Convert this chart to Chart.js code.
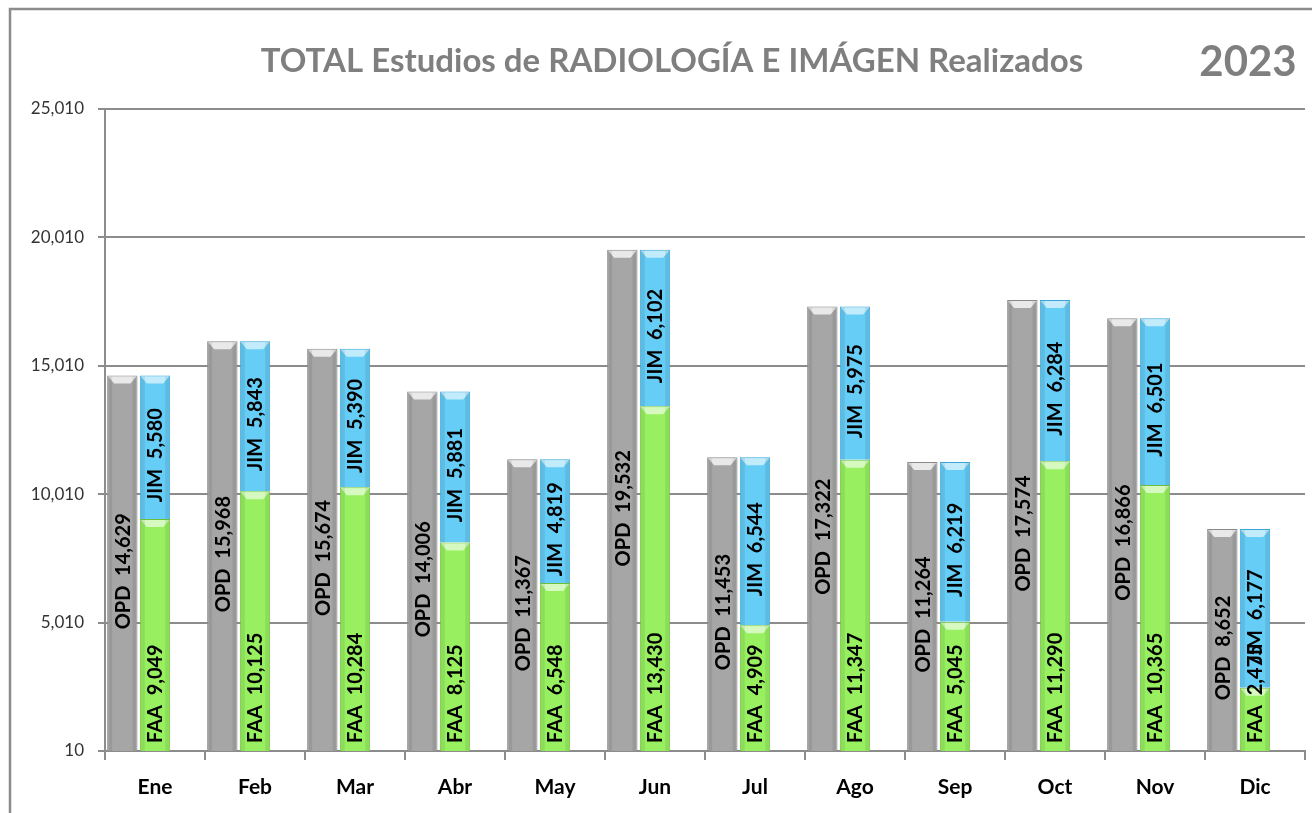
<!DOCTYPE html>
<html>
<head>
<meta charset="utf-8">
<title>Radiología e Imagen 2023</title>
<script src="https://cdn.jsdelivr.net/npm/chart.js@4.4.1/dist/chart.umd.min.js"></script>
<style>
  html, body { margin: 0; padding: 0; background: #fff; }
  #wrap { width: 1312px; height: 813px; }
</style>
</head>
<body>
<div id="wrap"><canvas id="radChart" width="1312" height="813"></canvas></div>
<script>
const meses = ['Ene', 'Feb', 'Mar', 'Abr', 'May', 'Jun', 'Jul', 'Ago', 'Sep', 'Oct', 'Nov', 'Dic'];
const opd = [14629, 15968, 15674, 14006, 11367, 19532, 11453, 17322, 11264, 17574, 16866, 8652];
const faa = [9049, 10125, 10284, 8125, 6548, 13430, 4909, 11347, 5045, 11290, 10365, 2475];
const jim = [5580, 5843, 5390, 5881, 4819, 6102, 6544, 5975, 6219, 6284, 6501, 6177];
const yTicks = [10, 5010, 10010, 15010, 20010, 25010];
const titulo = 'TOTAL Estudios de RADIOLOGÍA E IMÁGEN Realizados';
const anio = '2023';

const FONT = "Lato, 'Open Sans', sans-serif";

function fmt(n) {
    return n.toLocaleString('en-US');
}

// marco y titulo
const marcoPlugin = {
    id: 'marco',
    beforeDraw(chart) {
        const c = chart.ctx;
        c.save();
        c.fillStyle = '#fff';
        c.fillRect(0, 0, chart.width, chart.height);
        c.strokeStyle = '#8c8c8c';
        c.lineWidth = 2.5;
        c.beginPath();
        c.moveTo(10, chart.height);
        c.lineTo(10, 9);
        c.lineTo(chart.width, 9);
        c.stroke();

        c.fillStyle = '#7f7f7f';
        c.textBaseline = 'alphabetic';
        c.textAlign = 'center';
        c.font = 'bold 33px ' + FONT;
        c.fillText(titulo, 672, 72);
        c.font = 'bold 42px ' + FONT;
        c.fillText(anio, 1248, 76);
        c.restore();
    }
};

// bisel de las barras + etiquetas giradas
const etiquetasPlugin = {
    id: 'etiquetas',
    afterDatasetsDraw(chart) {
        const c = chart.ctx;
        const area = chart.chartArea;
        const biseles = ['rgba(255,255,255,0.75)', 'rgba(255,255,255,0.6)', 'rgba(255,255,255,0.6)'];
        c.save();
        chart.data.datasets.forEach((ds, di) => {
            if (!ds.etiqueta) return;
            const meta = chart.getDatasetMeta(di);
            meta.data.forEach((bar, i) => {
                const p = bar.getProps(['x', 'y', 'base', 'width'], true);
                const l = p.x - p.width / 2, r = p.x + p.width / 2;
                const top = Math.min(p.y, p.base), bot = Math.min(Math.max(p.y, p.base), area.bottom);
                // chaflan superior
                c.fillStyle = biseles[di];
                c.beginPath();
                c.moveTo(l + 1, top + 1);
                c.lineTo(r - 1, top + 1);
                c.lineTo(r - 7, top + 8);
                c.lineTo(l + 7, top + 8);
                c.closePath();
                c.fill();
                // sombra lateral
                c.fillStyle = 'rgba(0,0,0,0.08)';
                c.fillRect(l + 1, top + 1, 4, bot - top - 1);
                c.fillRect(r - 5, top + 1, 4, bot - top - 1);
            });
        });
        chart.data.datasets.forEach((ds, di) => {
            if (!ds.etiqueta) return;
            const meta = chart.getDatasetMeta(di);
            meta.data.forEach((bar, i) => {
                const p = bar.getProps(['x', 'y', 'base'], true);
                const texto = ds.etiqueta + '  ' + fmt(ds.data[i]);
                c.save();
                c.font = 'bold 20px ' + FONT;
                c.fillStyle = '#000';
                c.textBaseline = 'middle';
                if (ds.ancla === 'base') {
                    c.translate(p.x + 1, Math.min(p.base, area.bottom) - 8);
                    c.rotate(-Math.PI / 2);
                    c.textAlign = 'left';
                } else {
                    const top = Math.min(p.y, p.base), bot = Math.min(Math.max(p.y, p.base), area.bottom);
                    c.translate(p.x + 1, (top + bot) / 2 + 8);
                    c.rotate(-Math.PI / 2);
                    c.textAlign = 'center';
                }
                c.fillText(texto, 0, 0);
                c.restore();
            });
        });
        c.restore();
    }
};

const ctx = document.getElementById('radChart');

const radChart = new Chart(ctx.getContext('2d'), {
    type: 'bar',
    data: {
        labels: meses,
        datasets: [
            {
                label: 'OPD',
                etiqueta: 'OPD',
                ancla: 'centro',
                data: opd,
                stack: 'opd',
                backgroundColor: '#a6a6a6',
                borderColor: '#8a8a8a',
                borderWidth: 1
            },
            {
                label: 'FAA',
                etiqueta: 'FAA',
                ancla: 'base',
                data: faa,
                stack: 'int',
                backgroundColor: '#98f060',
                borderColor: '#6cbf3c',
                borderWidth: 1
            },
            {
                label: 'JIM',
                etiqueta: 'JIM',
                ancla: 'centro',
                data: jim,
                stack: 'int',
                backgroundColor: '#66cdf7',
                borderColor: '#3aa6d8',
                borderWidth: 1
            },
            {
                label: '',
                data: meses.map(() => null),
                stack: 'vacio'
            }
        ]
    },
    options: {
        responsive: false,
        animation: false,
        categoryPercentage: 0.98,
        barPercentage: 0.93,
        layout: {
            padding: { top: 109, left: 10, right: 7, bottom: 0 }
        },
        plugins: {
            legend: { display: false },
            tooltip: { enabled: false },
            title: { display: false }
        },
        scales: {
            x: {
                stacked: true,
                grid: {
                    display: true,
                    drawOnChartArea: false,
                    drawTicks: true,
                    tickLength: 9,
                    color: '#8c8c8c',
                    lineWidth: 2
                },
                border: { display: true, color: '#8c8c8c', width: 2 },
                ticks: {
                    color: '#000',
                    padding: 15,
                    font: { family: FONT, size: 21, weight: 'bold' }
                },
                afterFit(scale) { scale.height = 62; }
            },
            y: {
                stacked: true,
                min: yTicks[0],
                max: yTicks[yTicks.length - 1],
                afterBuildTicks(scale) {
                    scale.ticks = yTicks.map(v => ({ value: v }));
                },
                grid: {
                    color: '#8c8c8c',
                    lineWidth: 2,
                    tickLength: 7
                },
                border: { display: true, color: '#8c8c8c', width: 2 },
                ticks: {
                    color: '#333',
                    padding: 14,
                    font: { family: FONT, size: 17 },
                    callback: v => fmt(v)
                },
                afterFit(scale) { scale.width = 95; }
            }
        }
    },
    plugins: [marcoPlugin, etiquetasPlugin]
});
</script>
</body>
</html>
